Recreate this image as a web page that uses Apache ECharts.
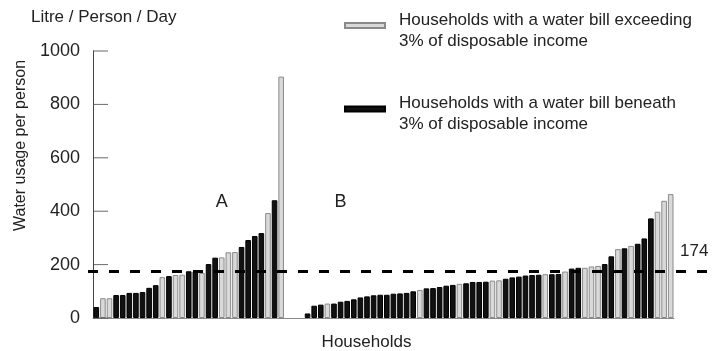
<!DOCTYPE html>
<html>
<head>
<meta charset="utf-8">
<script src="https://cdn.jsdelivr.net/npm/echarts@6/dist/echarts.min.js"></script>
<style>
  html, body { margin: 0; padding: 0; background: #fff; }
  #main { width: 713px; height: 351px; }
</style>
</head>
<body>
<div id="main"></div>
<script>
// group A households, sorted by usage (litre/person/day)
var groupA = [41, 74, 74, 86, 86, 94, 94, 97, 113, 123, 153, 157, 161, 162, 175, 175, 169, 202, 226, 227, 246, 247, 266, 292, 307, 318, 393, 441, 904];
// G = bill exceeding 3%, B = bill beneath 3%
var groupAType = 'BGGBBBBBBBGBGGBBGBBGGGBBBBGBG'.split('');
var groupB = [17, 46, 50, 54, 54, 61, 64, 70, 77, 81, 85, 87, 87, 91, 92, 94, 100, 105, 111, 112,
  116, 121, 124, 128, 130, 135, 135, 136, 140, 141, 147, 152, 155, 159, 161, 162, 164, 164, 165, 174,
  185, 188, 188, 193, 195, 202, 231, 258, 261, 270, 278, 298, 373, 398, 439, 464];
var groupBType = 'BBBGBBBBBBBBBBBBBGBBBBBGBBBBGGBBBBBBGBBGBBGGGBBGBGBBBGGG'.split('');
var gapSlots = ['gap1', 'gap2', 'gap3'];
var average = 174;
var yTicks = [0, 200, 400, 600, 800, 1000];

var categories = [], values = [], types = [];
groupA.forEach(function(v, i) { categories.push('A' + (i + 1)); values.push(v); types.push(groupAType[i]); });
gapSlots.forEach(function(g) { categories.push(g); values.push(null); types.push(null); });
groupB.forEach(function(v, i) { categories.push('B' + (i + 1)); values.push(v); types.push(groupBType[i]); });

var exceedData = values.map(function(v, i) { return types[i] === 'G' ? v : null; });
var beneathData = values.map(function(v, i) { return types[i] === 'B' ? v : null; });

var font = 'Liberation Sans';
var hiddenSymbol = { symbol: 'circle', symbolSize: 1, itemStyle: { color: 'rgba(0,0,0,0)' } };
var yMin = yTicks[0], yMax = yTicks[yTicks.length - 1], yStep = yTicks[1] - yTicks[0];
var myChart = echarts.init(document.getElementById('main'));
var option = {
  animation: false,
  textStyle: { fontFamily: font },
  title: {
    text: 'Litre / Person / Day',
    left: 26, top: 4,
    textStyle: { fontFamily: font, fontSize: 17, fontWeight: 'normal', color: '#222' }
  },
  legend: {
    data: ['exceed', 'beneath'],
    orient: 'vertical',
    left: 339, top: -1,
    itemWidth: 40, itemHeight: 5,
    itemGap: 38,
    icon: 'rect',
    formatter: function(name) {
      var lines = name === 'exceed'
        ? ['Households with a water bill exceeding', '3% of disposable income']
        : ['Households with a water bill beneath', '3% of disposable income'];
      return '{s| }\n{t|' + lines[0] + '}\n{t|' + lines[1] + '}';
    },
    textStyle: {
      fontFamily: font, fontSize: 17, color: '#222',
      rich: {
        s: { fontSize: 1, lineHeight: 10 },
        t: { fontFamily: font, fontSize: 17, color: '#222', lineHeight: 21, padding: [0, 0, 0, 9] }
      }
    }
  },
  grid: [
    { left: 93, right: 39, top: 51, bottom: 33, outerBoundsMode: 'none' },
    { left: 88, right: 0, top: 51, bottom: 33, outerBoundsMode: 'none' },
    // narrow strip right of the y axis holding the inward tick marks
    { left: 93, width: 15, top: 51, bottom: 33, outerBoundsMode: 'none' }
  ],
  xAxis: [{
    type: 'category',
    data: categories,
    gridIndex: 0,
    axisLine: { lineStyle: { color: '#888', width: 1 } },
    axisTick: { show: false },
    axisLabel: { show: false },
    name: 'Households',
    nameLocation: 'middle',
    nameGap: 16,
    nameTextStyle: { fontFamily: font, fontSize: 17, color: '#222', padding: [0, 34, 0, 0] }
  }, {
    type: 'value', gridIndex: 1, min: 0, max: 1, show: false
  }, {
    type: 'value', gridIndex: 2, min: 0, max: 1, show: false
  }],
  yAxis: [{
    type: 'value',
    gridIndex: 0,
    min: yMin, max: yMax, interval: yStep,
    splitLine: { show: false },
    axisLine: { show: true, lineStyle: { color: '#444', width: 1 } },
    axisTick: { show: false },
    axisLabel: {
      fontFamily: font, fontSize: 18, color: '#222', margin: 13,
      formatter: function(v) { return String(v); }
    },
    name: 'Water usage per person',
    nameLocation: 'middle',
    nameGap: 61,
    nameTextStyle: { fontFamily: font, fontSize: 16, color: '#222', padding: [0, 0, 0, 78] }
  }, {
    type: 'value', gridIndex: 1, min: yMin, max: yMax, show: false
  }, {
    type: 'value', gridIndex: 2, min: yMin, max: yMax, show: false
  }],
  series: [{
    name: 'exceed',
    type: 'bar',
    data: exceedData,
    barWidth: 5.6,
    barGap: '-100%',
    itemStyle: { color: '#d9d9d9', borderColor: '#8a8a8a', borderWidth: 1 }
  }, {
    name: 'beneath',
    type: 'bar',
    data: beneathData,
    barWidth: 5.6,
    barGap: '-100%',
    itemStyle: { color: '#111', borderColor: '#000', borderWidth: 1 },
    markPoint: Object.assign({}, hiddenSymbol, {
      label: { show: true, position: 'inside', fontFamily: font, fontSize: 18, color: '#222', formatter: '{b}' },
      data: [
        { name: 'A', coord: ['A20', 435] },
        { name: 'B', coord: ['B6', 435] }
      ]
    })
  }, {
    name: 'average',
    type: 'line',
    xAxisIndex: 1, yAxisIndex: 1,
    data: [[0, average], [1, average]],
    symbol: 'none',
    lineStyle: { color: '#000', width: 3, type: [10, 11] },
    markPoint: Object.assign({}, hiddenSymbol, {
      label: { show: true, position: 'inside', fontFamily: font, fontSize: 17, color: '#222', formatter: String(average), offset: [0, -20] },
      data: [{ coord: [0.97, average] }]
    })
  }, {
    name: 'ticks',
    type: 'scatter',
    xAxisIndex: 2, yAxisIndex: 2,
    data: yTicks.map(function(t) { return [0.5, t]; }),
    symbol: 'rect',
    symbolSize: [15, 1],
    clip: false,
    silent: true,
    itemStyle: { color: '#444' }
  }]
};
myChart.setOption(option);
</script>
</body>
</html>
